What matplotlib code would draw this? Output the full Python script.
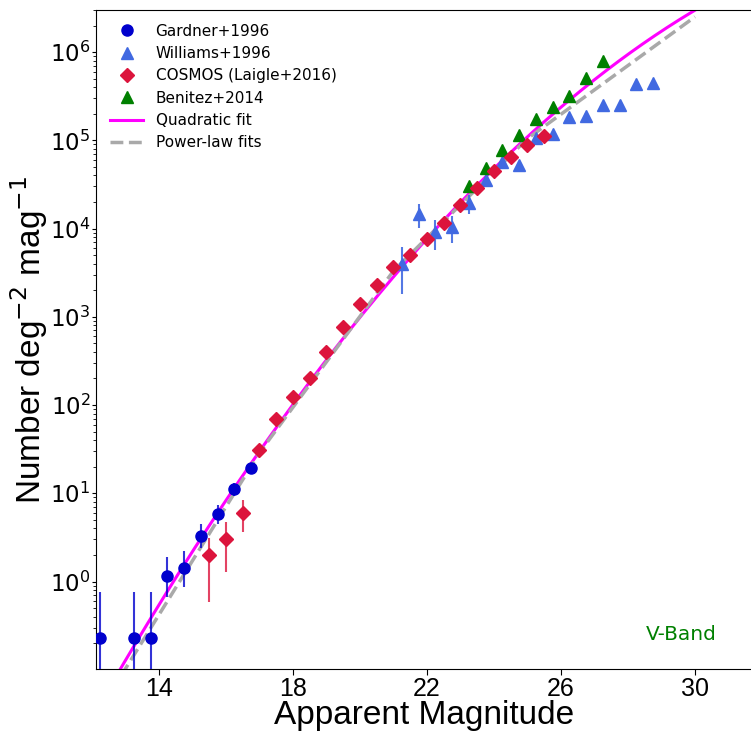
import numpy as np
import matplotlib
matplotlib.use('Agg')
import matplotlib.pyplot as plt

# ── data ─────────────────────────────────────────────────────────────────────
gard_mag = [12.25, 13.25, 13.75, 14.25, 14.75, 15.25, 15.75, 16.25, 16.75]
gard_n   = [0.23, 0.23, 0.23, 1.17, 1.41, 3.26, 5.85, 11.2, 19.3]
gard_elo = [0.23, 0.23, 0.23, 0.51, 0.55, 0.89, 1.40, 2.0, 2.8]
gard_ehi = [0.54, 0.54, 0.54, 0.75, 0.83, 1.17, 1.45, 2.0, 2.8]

will_mag = [21.25, 21.75, 22.25, 22.75, 23.25, 23.75, 24.25, 24.75,
            25.25, 25.75, 26.25, 26.75, 27.25, 27.75, 28.25, 28.75]
will_n   = [4000, 14500, 9100, 10400, 19500, 35700, 56500, 53000,
            107000, 117000, 183000, 191000, 253000, 253000, 432000, 451000]
will_err = [2200, 4400, 3450, 3550, 4700, 5000, 6000, 5500,
            9000, 9000, 12000, 12000, 14000, 14000, 20000, 20000]

cos_mag = [15.5, 16.0, 16.5, 17.0, 17.5, 18.0, 18.5, 19.0, 19.5, 20.0,
           20.5, 21.0, 21.5, 22.0, 22.5, 23.0, 23.5, 24.0, 24.5, 25.0, 25.5]
cos_n   = [2.0, 3.0, 5.95, 31, 70, 123, 202, 395, 765, 1380,
           2270, 3660, 5060, 7690, 11700, 18300, 29000, 44500, 65000, 89600, 111000]
cos_elo = [1.42, 1.73, 2.35] + [0] * 18
cos_ehi = [1.10, 1.70, 2.35] + [0] * 18

ben_mag = [23.25, 23.75, 24.25, 24.75, 25.25, 25.75, 26.25, 26.75, 27.25]
ben_n   = [30500, 48500, 77500, 115000, 176000, 239000, 320000, 505000, 790000]

# quadratic fit: log10 N = a + b (m-20) + c (m-20)^2
quad_a, quad_b, quad_c = 2.995, 0.47, -0.0122
quad_range = (12.0, 30.0)

# power-law fits (straight segments in log N)
pl_mag  = [12.0, 17.0, 21.0, 25.0, 30.0]
pl_logn = [-1.6, 1.46, 3.52, 5.02, 6.40]

LAB_FONT = 'Liberation Sans'

# ── figure ───────────────────────────────────────────────────────────────────
fig = plt.figure(figsize=(7.51, 7.32), dpi=100)
ax = fig.add_axes([96/751, 63/732, 657/751, 659/732])

mq = np.linspace(*quad_range, 300)
quad_line, = ax.plot(mq, 10**(quad_a + quad_b*(mq-20) + quad_c*(mq-20)**2),
                     color='magenta', lw=2.2, label='Quadratic fit', zorder=2)
pl_line, = ax.plot(pl_mag, 10**np.array(pl_logn), color='darkgray', lw=2.5,
                   ls='--', label='Power-law fits', zorder=2)

ax.errorbar(gard_mag, gard_n, yerr=[gard_elo, gard_ehi], fmt='none',
            ecolor='mediumblue', elinewidth=1.5, alpha=0.8, zorder=3)
ax.errorbar(will_mag, will_n, yerr=will_err, fmt='none',
            ecolor='royalblue', elinewidth=1.5, alpha=0.9, zorder=3)
ax.errorbar(cos_mag, cos_n, yerr=[cos_elo, cos_ehi], fmt='none',
            ecolor='crimson', elinewidth=1.5, alpha=0.8, zorder=3)

h_gard, = ax.plot(gard_mag, gard_n, 'o', color='mediumblue', ms=8,
                  label='Gardner+1996', zorder=4)
h_will, = ax.plot(will_mag, will_n, '^', color='royalblue', ms=8,
                  label='Williams+1996', zorder=4)
h_ben, = ax.plot(ben_mag, ben_n, '^', color='green', ms=8,
                 label='Benitez+2014', zorder=4)
h_cos, = ax.plot(cos_mag, cos_n, 'D', color='crimson', ms=7.5,
                 label='COSMOS (Laigle+2016)', zorder=5)

ax.set_yscale('log')
ax.set_xlim(12.12, 12.12 + 657/33.5)
ax.set_ylim(0.102, 3.0e6)
ax.set_xticks([14, 18, 22, 26, 30])
ax.tick_params(axis='y', which='major', length=3, pad=1, labelsize=16.5)
ax.tick_params(axis='x', which='major', length=4, pad=2, labelsize=18)
for lab in ax.get_xticklabels():
    lab.set_fontfamily(LAB_FONT)

ax.set_xlabel('Apparent Magnitude', fontsize=24, family=LAB_FONT, labelpad=-1)
ax.set_ylabel('Number deg$^{-2}$ mag$^{-1}$', fontsize=24, family=LAB_FONT,
              labelpad=0)

ax.text(0.945, 0.052, 'V-Band', color='green', fontsize=14.5,
        transform=ax.transAxes, ha='right', va='center')

ax.legend(handles=[h_gard, h_will, h_cos, h_ben, quad_line, pl_line],
          loc='upper left', frameon=False, fontsize=11, labelspacing=0.48,
          handlelength=2.2)

fig.savefig('out.png', dpi=100)
